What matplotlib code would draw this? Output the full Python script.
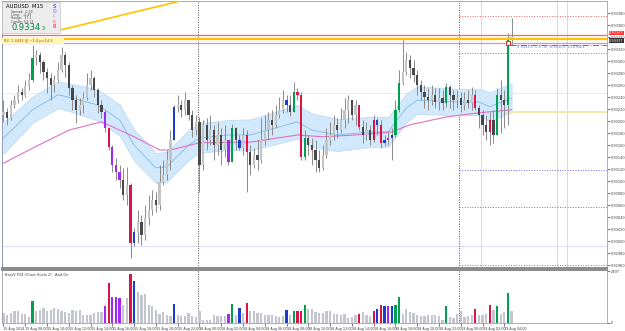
import numpy as np
import matplotlib
matplotlib.use("Agg")
import matplotlib.pyplot as plt
from matplotlib.patches import Rectangle

# AUDUSD M15 bars, prices in points (1e-5)
close_pts = [93215, 93205, 93227, 93235, 93249, 93244, 93259, 93269, 93305, 93310,
             93299, 93282, 93272, 93260, 93269, 93285, 93310, 93294, 93255, 93235,
             93219, 93227, 93239, 93260, 93272, 93252, 93227, 93215, 93189, 93157,
             93127, 93115, 93102, 93077, 93094, 92997, 93015, 93032, 93010, 93039,
             93052, 93069, 93060, 93099, 93110, 93135, 93169, 93224, 93227, 93219,
             93235, 93210, 93185, 93199, 93127, 93194, 93169, 93185, 93160, 93177,
             93152, 93169, 93132, 93189, 93169, 93155, 93177, 93149, 93127, 93144,
             93135, 93169, 93185, 93202, 93194, 93210, 93219, 93235, 93227, 93215,
             93249, 93244, 93140, 93172, 93160, 93152, 93135, 93122, 93144, 93169,
             93177, 93194, 93185, 93202, 93219, 93235, 93210, 93227, 93190, 93177,
             93185, 93169, 93202, 93194, 93164, 93169, 93172, 93177, 93219, 93264,
             93282, 93302, 93289, 93277, 93260, 93249, 93240, 93235, 93244, 93232,
             93239, 93230, 93257, 93244, 93235, 93239, 93227, 93235, 93230, 93244,
             93222, 93210, 93194, 93182, 93202, 93177, 93244, 93235, 93227, 93335, 93340]
high_pts = [93235, 93222, 93235, 93244, 93260, 93255, 93269, 93280, 93327, 93319,
            93315, 93302, 93289, 93280, 93277, 93299, 93324, 93315, 93299, 93260,
            93244, 93239, 93249, 93280, 93285, 93275, 93255, 93235, 93219, 93189,
            93160, 93139, 93127, 93122, 93124, 93097, 93022, 93052, 93044, 93060,
            93077, 93085, 93082, 93127, 93135, 93152, 93185, 93227, 93244, 93235,
            93249, 93235, 93219, 93210, 93207, 93202, 93205, 93210, 93194, 93199,
            93189, 93194, 93169, 93195, 93190, 93177, 93189, 93185, 93160, 93155,
            93169, 93205, 93210, 93215, 93219, 93227, 93240, 93252, 93244, 93244,
            93265, 93255, 93249, 93185, 93177, 93172, 93169, 93152, 93160, 93189,
            93199, 93210, 93205, 93222, 93239, 93244, 93235, 93235, 93227, 93202,
            93199, 93194, 93210, 93205, 93202, 93177, 93182, 93189, 93235, 93285,
            93339, 93315, 93310, 93302, 93285, 93269, 93260, 93255, 93260, 93255,
            93255, 93252, 93264, 93260, 93252, 93252, 93249, 93249, 93252, 93257,
            93252, 93227, 93219, 93210, 93215, 93219, 93255, 93269, 93252, 93347, 93372]
low_pts = [93199, 93194, 93202, 93222, 93230, 93235, 93240, 93252, 93265, 93294,
           93280, 93269, 93247, 93235, 93249, 93265, 93282, 93274, 93244, 93219,
           93197, 93210, 93214, 93235, 93252, 93240, 93214, 93205, 93182, 93152,
           93115, 93102, 93089, 93069, 93060, 92972, 92992, 92997, 92994, 93002,
           93027, 93044, 93049, 93052, 93094, 93102, 93119, 93172, 93215, 93207,
           93210, 93202, 93174, 93177, 93082, 93119, 93152, 93160, 93135, 93144,
           93127, 93140, 93127, 93132, 93152, 93152, 93144, 93082, 93110, 93122,
           93119, 93130, 93160, 93169, 93177, 93189, 93205, 93214, 93215, 93209,
           93215, 93235, 93135, 93135, 93144, 93127, 93115, 93115, 93119, 93139,
           93160, 93169, 93172, 93180, 93189, 93197, 93202, 93194, 93185, 93164,
           93169, 93160, 93165, 93177, 93155, 93159, 93160, 93135, 93174, 93215,
           93260, 93277, 93272, 93265, 93244, 93235, 93222, 93219, 93227, 93222,
           93219, 93219, 93224, 93222, 93219, 93222, 93215, 93219, 93222, 93219,
           93219, 93189, 93177, 93169, 93160, 93164, 93185, 93180, 93189, 93194, 93327]
first_open = 93210

volume = [480, 400, 480, 560, 560, 432, 432, 272, 1072, 560,
          640, 720, 560, 640, 720, 688, 560, 528, 480, 640,
          560, 640, 400, 400, 368, 480, 528, 528, 800, 1920,
          1248, 1232, 1200, 848, 1200, 2368, 2000, 1472, 1360, 1392,
          880, 800, 640, 432, 528, 400, 320, 912, 400, 320,
          320, 480, 320, 272, 592, 160, 160, 160, 400, 320,
          320, 320, 432, 912, 400, 720, 480, 960, 560, 560,
          480, 480, 368, 368, 368, 320, 272, 320, 640, 400,
          560, 592, 592, 880, 688, 688, 528, 480, 480, 560,
          592, 432, 432, 368, 432, 240, 272, 400, 432, 528,
          400, 320, 560, 672, 880, 832, 832, 832, 880, 1232,
          432, 688, 528, 480, 400, 320, 320, 368, 368, 368,
          320, 160, 800, 272, 240, 432, 560, 272, 320, 400,
          688, 368, 400, 432, 848, 640, 800, 432, 528, 1440, 592]

green_bars = [8, 63, 80, 83, 108, 109, 122, 136, 139]
red_bars = [29, 35, 67, 81, 82, 98, 102, 104, 130, 134]
blue_bars = [36, 47, 65, 78, 103, 105, 107]
purple_bars = [28, 30, 31, 32, 62, 106]

# moving average band (knots)
band_idx = [0, 8, 15, 18, 26, 32, 36, 42, 45, 51, 54, 62, 68, 81, 85, 92, 101, 106, 111, 114, 125, 131, 134, 140]
band_mid = [93172, 93219, 93244, 93240, 93227, 93202, 93160, 93122, 93124, 93160, 93172, 93177,
            93177, 93199, 93185, 93177, 93182, 93182, 93222, 93235, 93232, 93232, 93224, 93239]
band_half = [26, 22, 22, 23, 26, 26, 26, 25, 25, 25, 25, 25, 26, 28, 28, 27, 25, 25, 24, 23, 22, 22, 24, 24]
slow_idx = [0, 8, 18, 27, 36, 43, 46, 54, 68, 81, 88, 97, 107, 112, 122, 131, 140]
slow_ma = [93130, 93155, 93185, 93199, 93174, 93152, 93152, 93164, 93165, 93177, 93174, 93177,
           93182, 93194, 93207, 93214, 93219]

price_ticks = [92960 + 20 * k for k in range(22)]
time_labels = ["15 Aug 2014", "15 Aug 08:00", "15 Aug 10:00", "15 Aug 12:00", "15 Aug 14:00",
               "15 Aug 16:00", "15 Aug 18:00", "15 Aug 20:00", "15 Aug 22:00", "18 Aug 00:00",
               "18 Aug 02:00", "18 Aug 04:00", "18 Aug 06:00", "18 Aug 08:00", "18 Aug 10:00",
               "18 Aug 12:00", "18 Aug 14:00", "18 Aug 16:00", "18 Aug 18:00", "18 Aug 20:00",
               "18 Aug 22:00", "19 Aug 00:00", "19 Aug 02:00", "19 Aug 04:00"]

c = np.array(close_pts) / 1e5
o = np.array([first_open] + close_pts[:-1]) / 1e5
h = np.maximum.reduce([np.array(high_pts) / 1e5, o, c])
l = np.minimum.reduce([np.array(low_pts) / 1e5, o, c])
idx = np.arange(len(c))

colors = {}
for lst, col in [(green_bars, "#00a050"), (red_bars, "#dc1446"), (blue_bars, "#1c3cd0"), (purple_bars, "#a028f0")]:
    for i in lst:
        colors[i] = col

body_col = [colors.get(i, "#c4c4c4" if c[i] >= o[i] else "#484848") for i in idx]
vol_col = [colors.get(i, "#c3c6cf") for i in idx]

W, H = 625, 331
fig = plt.figure(figsize=(6.25, 3.31), dpi=100)
ax = fig.add_axes([2 / W, 63 / H, 605 / W, 267 / H])
axv = fig.add_axes([2 / W, 8 / H, 605 / W, 53 / H], sharex=ax)

# band and averages
bx = np.array(band_idx)
bm = np.array(band_mid) / 1e5
bh = np.array(band_half) / 1e5
ax.fill_between(bx, bm - bh, bm + bh, color="#d2e8fb", ec="#b8d8f6", lw=0.5, zorder=1)
ax.plot(bx, bm, color="#6fb0ea", lw=0.5, zorder=2)
ax.plot(slow_idx, np.array(slow_ma) / 1e5, color="#e070c8", lw=0.8, zorder=2)

# candles
ax.vlines(idx, l, h, color="#8a8a8a", lw=0.7, zorder=3)
ax.bar(idx, np.maximum(np.abs(c - o), 1.5e-5), bottom=np.minimum(o, c), width=0.62,
       color=body_col, zorder=4)

xr = 166.3
# horizontal levels
ax.axhline(0.93343, color="#ff6464", lw=0.9, zorder=5)
ax.axhline(0.93337, color="#ffc400", lw=1.6, zorder=5)
ax.axhline(0.93330, color="#c890f0", lw=0.9, zorder=5)
ax.axhline(0.93247, color="#f0efd8", lw=0.8, zorder=0.5)
ax.axhline(0.92992, color="#e2e2fa", lw=0.9, zorder=0.5)
ax.hlines([0.93375, 0.93314], 125.5, xr, color="#e06060", lw=0.7, ls=":", zorder=5)
ax.hlines([0.93119, 0.93057, 0.92960], 125.5, xr, color="#7070f0", lw=0.7, ls=":", zorder=5)
ax.hlines(0.93215, 138.6, xr, color="#efe8b0", lw=1.5, zorder=1)
ax.hlines(0.93327, 139.5, xr, color="#6060e0", lw=0.7, ls="-.", zorder=5)
ax.plot([13.6, 43.1, 60], [0.93349, 0.93392, 0.93417], color="#ffc400", lw=1.2, zorder=5)
ax.plot([139], [0.93330], marker="s", ms=2.5, mfc="white", mec="#e02020", mew=0.7, zorder=6)

for a in (ax, axv):
    a.axvline(53.5, color="#505050", lw=0.7, ls=(0, (1, 1.5)), zorder=0.8)
    a.axvline(125.5, color="#505050", lw=0.7, ls=(0, (1, 1.5)), zorder=0.8)
for xv in [131.5, 152.5, 155.2]:
    ax.axvline(xv, color="#dadada", lw=0.7, zorder=0.6)

ax.set_xlim(-0.41, xr)
ax.set_ylim(0.929553, 0.934003)
ax.yaxis.tick_right()
ax.set_yticks(np.array(price_ticks) / 1e5)
ax.set_yticklabels(["%.5f" % (p / 1e5) for p in price_ticks])
ax.tick_params(axis="y", labelsize=2.5, length=2, width=0.5, pad=1, colors="#404040")
ax.tick_params(axis="x", bottom=False, labelbottom=False)

# volume panel
axv.bar(idx, volume, width=0.62, color=vol_col)
axv.set_ylim(0, 2550)
axv.yaxis.tick_right()
axv.set_yticks([0, 2497])
axv.set_yticklabels(["0", "2497"])
axv.tick_params(axis="y", labelsize=2.5, length=2, width=0.5, pad=1, colors="#404040")
axv.set_xticks(np.arange(0, len(time_labels) * 6, 6))
axv.set_xticklabels(time_labels)
axv.tick_params(axis="x", labelsize=2.4, length=2, width=0.5, pad=1, colors="#404040")
for t in axv.get_xticklabels():
    t.set_ha("left")

for a in (ax, axv):
    for s in a.spines.values():
        s.set_color("#a0a0a0")
        s.set_linewidth(0.6)
ax.spines["bottom"].set_color("#808080")
ax.spines["bottom"].set_linewidth(1.3)
axv.spines["top"].set_color("#808080")
axv.spines["top"].set_linewidth(1.3)
ax.spines["left"].set_color("#7a86a8")


def px(x, y):
    return x / W, 1 - y / H


# info box
fig.add_artist(Rectangle(px(2, 33), 58 / W, 31 / H, transform=fig.transFigure,
                         fc="#ececec", ec="#c4c4c4", lw=0.5, zorder=10))
fig.text(*px(6, 7), "AUDUSD  M15", fontsize=3.8, va="center", zorder=11)
for k, row in enumerate(["Spread:  0.90", "Long:   -4.49", "Range:  37.1", "Candle: 02:21"]):
    fig.text(*px(11, 12 + 3.2 * k), row, fontsize=2.3, va="center", color="#505050", zorder=11)
fig.text(*px(11, 27), "0.9334", fontsize=6.0, va="center", color="#008040", zorder=11)
fig.text(*px(42, 28), "3", fontsize=3.6, va="center", color="#008040", zorder=11)
for k, (ch, col) in enumerate(zip("SDicR", ["#5070ff", "#a090ff", "#f0a0c0", "#e080a0", "#ff5080"])):
    fig.text(*px(53, 6 + 5.2 * k), ch, fontsize=3.4, va="center", color=col, zorder=11, weight="bold")

fig.add_artist(Rectangle(px(2, 43.5), 62 / W, 5.5 / H, transform=fig.transFigure,
                         fc="#fff6b0", ec="none", zorder=10))
fig.text(*px(4, 40.8), "R2: 1.4433 ||| ~1.4 p=14.3", fontsize=2.6, va="center",
         color="#c03a00", zorder=11)

fig.text(*px(517, 47.5), "0.93343, -0.0 (0)  0.93353, 1/10 Bars", fontsize=2.6,
         va="center", color="#7070e0", zorder=11)

fig.text(*px(609, 33), "0.93343", fontsize=2.5, va="center", color="white", zorder=12,
         bbox=dict(fc="#ff2a2a", ec="none", pad=0.3))
fig.text(*px(609, 40.5), "0.93337", fontsize=2.5, va="center", color="white", zorder=11,
         bbox=dict(fc="#303030", ec="none", pad=0.3))

fig.text(*px(5, 275.5), "BarsV P34 (Chart Scale 2)   Aad On", fontsize=2.6, va="center",
         color="#404040")

fig.savefig("out.png", dpi=100)
